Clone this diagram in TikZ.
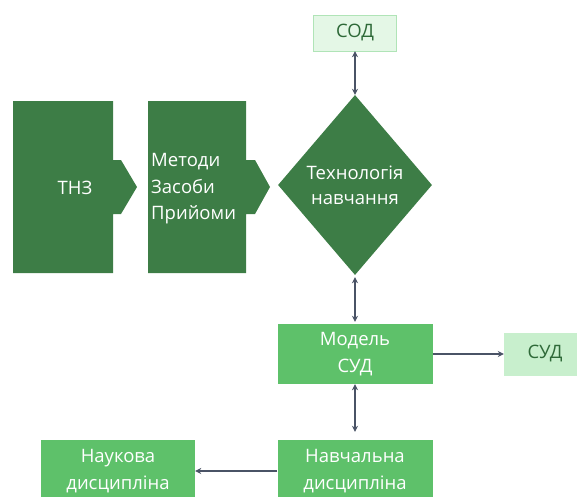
\documentclass[tikz,border=0pt]{standalone}
\usepackage{fontspec}
\setmainfont{Open Sans}
\usetikzlibrary{arrows.meta,shapes.geometric}
\definecolor{figD}{RGB}{61,125,70}
\definecolor{figM}{RGB}{94,193,106}
\definecolor{figL}{RGB}{228,247,230}
\definecolor{figLB}{RGB}{176,228,183}
\definecolor{figS}{RGB}{200,239,205}
\definecolor{figT}{RGB}{46,105,56}
\definecolor{figA}{RGB}{74,83,102}
\tikzset{
  txt/.style={font=\fontsize{18.5}{26.5}\selectfont},
  darkbox/.style={fill=figM,text=white,txt,align=center,inner sep=0pt},
  lightbox/.style={fill=figS,text=figT,txt,inner sep=0pt},
  link/.style={figA,line width=1.2pt}
}

\begin{document}
\begin{tikzpicture}[x=1pt,y=-1pt,>={Stealth[length=6pt,width=6pt]}]
\useasboundingbox (0,0) rectangle (577,496);
\clip (0,0) rectangle (577,496);
% chevrons on the left
\fill[figD] (13,101)--(113,101)--(113,160)--(121,160)--(137,187)--(121,214)--(113,214)--(113,273)--(13,273)--cycle;
\node[txt,text=white] (tnz) at (75,188) {ТНЗ};
\fill[figD] (148,101)--(246,101)--(246,160)--(255,160)--(270,187)--(255,214)--(246,214)--(246,273)--(148,273)--cycle;
\node[txt,text=white,align=left,anchor=west,inner sep=0pt] (tools) at (151,189) {Методи\\Засоби\\Прийоми};
% central column
\node[diamond,fill=figD,text=white,font=\fontsize{18.5}{25}\selectfont,align=center,minimum width=154pt,minimum height=180pt,inner sep=0pt] (tech) at (355,185) {Технологія\\навчання};
\node[draw=figLB,fill=figL,text=figT,txt,minimum width=83pt,minimum height=36pt,inner sep=0pt] (sod) at (355,33) {СОД};
\node[darkbox,minimum width=155pt,minimum height=60pt] (model) at (355,354) {Модель\\СУД};
\node[lightbox,minimum width=82pt,minimum height=43pt] (sud) at (545,354) {СУД};
\node[darkbox,minimum width=155pt,minimum height=62pt] (navch) at (355,471) {Навчальна\\дисципліна};
\node[darkbox,minimum width=154pt,minimum height=62pt] (nauk) at (118,471) {Наукова\\дисципліна};
% links
\draw[link,<->] (sod) -- (tech);
\draw[link,<->,shorten <=2pt,shorten >=2pt] (tech) -- (model);
\draw[link,->] (model) -- (sud);
\draw[link,<->,shorten >=8pt] (model) -- (navch);
\draw[link,->] (navch) -- (nauk);
\end{tikzpicture}
\end{document}
